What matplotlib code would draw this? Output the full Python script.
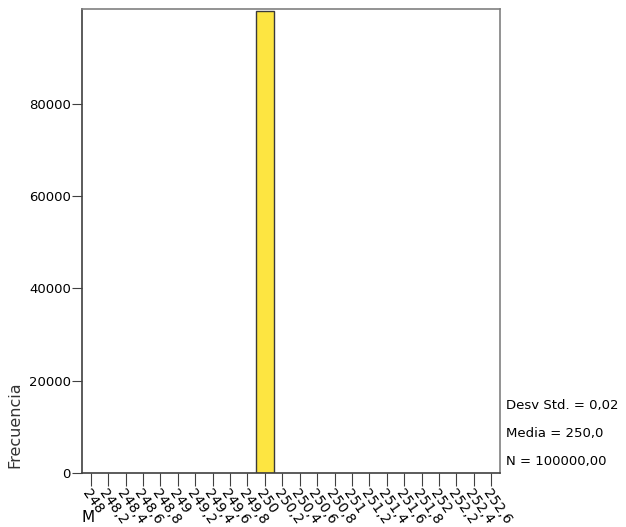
import matplotlib
matplotlib.use("Agg")
import matplotlib.pyplot as plt

# Data
bin_centers = [248.0, 248.2, 248.4, 248.6, 248.8, 249.0, 249.2, 249.4, 249.6, 249.8,
               250.0, 250.2, 250.4, 250.6, 250.8, 251.0, 251.2, 251.4, 251.6, 251.8,
               252.0, 252.2, 252.4, 252.6]
counts = [0, 0, 0, 0, 0, 0, 0, 0, 0, 0,
          100000, 0, 0, 0, 0, 0, 0, 0, 0, 0,
          0, 0, 0, 0]
tick_labels = ["248", "248,2", "248,4", "248,6", "248,8", "249", "249,2", "249,4",
               "249,6", "249,8", "250", "250,2", "250,4", "250,6", "250,8", "251",
               "251,2", "251,4", "251,6", "251,8", "252", "252,2", "252,4", "252,6"]
y_ticks = [0, 20000, 40000, 60000, 80000]
stats = ["Desv Std. = 0,02", "Media = 250,0", "N = 100000,00"]
bin_width = 0.2

plt.rcParams['font.family'] = ['DejaVu Sans']

fig = plt.figure(figsize=(6.26, 5.27), dpi=100)
ax = fig.add_axes([82/626, 1-473/527, (500-82)/626, (473-9)/527])

for c, h in zip(bin_centers, counts):
    if h > 0:
        ax.bar(c, h, width=bin_width, color='#FDE541', edgecolor='#3a3a3a', linewidth=1.0)

ax.set_xlim(bin_centers[0] - bin_width/2, bin_centers[-1] + bin_width/2)
ax.set_ylim(0, 100500)

ax.set_xticks(bin_centers)
ax.set_xticklabels(tick_labels, rotation=-55, ha='left', va='top', rotation_mode='anchor', fontsize=10)
ax.set_yticks(y_ticks)
ax.set_yticklabels([str(v) for v in y_ticks], fontsize=9.5)

for s in ax.spines.values():
    s.set_color('#808080')
    s.set_linewidth(1.2)
ax.spines['left'].set_color('#404040')
ax.spines['bottom'].set_color('#404040')
ax.tick_params(axis='x', length=9, width=0.8, color='#404040', pad=1)
ax.tick_params(axis='y', length=7, width=0.8, color='#404040', pad=1)

fig.text(15/626, 1-425/527, "Frecuencia", rotation=90, ha='center', va='center', fontsize=11.5, color='#333333')
fig.text(88/626, 1-518/527, "M", ha='center', va='center', fontsize=11)

for i, s in enumerate(stats):
    y = [406, 434, 461][i]
    fig.text(506/626, 1-y/527, s, ha='left', va='center', fontsize=9.5)

fig.savefig("out.png", dpi=100)
